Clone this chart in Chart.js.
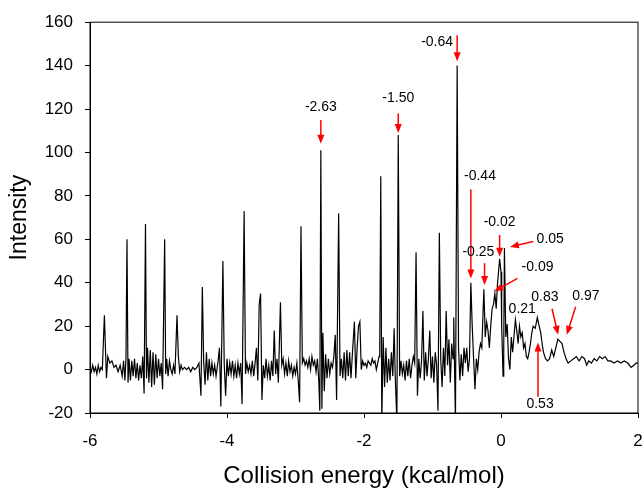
<!DOCTYPE html>
<html>
<head>
<meta charset="utf-8">
<script src="https://cdn.jsdelivr.net/npm/chart.js@4.4.0/dist/chart.umd.min.js"></script>
<style>
  body { margin: 0; background: #fff; }
</style>
</head>
<body>
<canvas id="spectrumChart" width="644" height="488"></canvas>
<script>
// collision energy (kcal/mol)
const energy = [
  -6.00, -5.98, -5.96, -5.94, -5.92, -5.90, -5.88, -5.86, -5.84, -5.82,
  -5.79, -5.76, -5.74, -5.71, -5.68, -5.65, -5.62, -5.59, -5.56, -5.53,
  -5.51, -5.49, -5.475, -5.46, -5.445, -5.43, -5.41, -5.39, -5.37, -5.35,
  -5.33, -5.31, -5.29, -5.27, -5.25, -5.23, -5.21, -5.19, -5.175, -5.16,
  -5.14, -5.12, -5.10, -5.08, -5.06, -5.04, -5.02, -5.00, -4.98, -4.96,
  -4.94, -4.91, -4.895, -4.88, -4.86, -4.84, -4.82, -4.80, -4.78, -4.76,
  -4.73, -4.71, -4.69, -4.67, -4.65, -4.62, -4.59, -4.56, -4.53, -4.50,
  -4.47, -4.44, -4.41, -4.38, -4.36, -4.34, -4.32, -4.30, -4.28, -4.26,
  -4.24, -4.22, -4.20, -4.18, -4.16, -4.13, -4.11, -4.09, -4.06, -4.04,
  -4.02, -4.00, -3.98, -3.96, -3.94, -3.92, -3.90, -3.88, -3.86, -3.84,
  -3.82, -3.80, -3.78, -3.75, -3.73, -3.71, -3.69, -3.67, -3.65, -3.63,
  -3.61, -3.59, -3.57, -3.55, -3.53, -3.51, -3.49, -3.47, -3.45, -3.43,
  -3.41, -3.39, -3.37, -3.35, -3.33, -3.31, -3.29, -3.27, -3.25, -3.22,
  -3.20, -3.18, -3.16, -3.14, -3.12, -3.10, -3.08, -3.06, -3.04, -3.02,
  -3.00, -2.98, -2.96, -2.94, -2.92, -2.90, -2.88, -2.86, -2.84, -2.82,
  -2.80, -2.78, -2.76, -2.74, -2.72, -2.70, -2.68, -2.66, -2.645, -2.63,
  -2.615, -2.60, -2.58, -2.56, -2.54, -2.52, -2.50, -2.48, -2.46, -2.44,
  -2.42, -2.40, -2.37, -2.35, -2.33, -2.31, -2.29, -2.27, -2.25, -2.23,
  -2.21, -2.19, -2.17, -2.14, -2.12, -2.10, -2.08, -2.06, -2.04, -2.02,
  -2.00, -1.98, -1.96, -1.94, -1.92, -1.90, -1.88, -1.86, -1.84, -1.82,
  -1.80, -1.78, -1.77, -1.755, -1.74, -1.72, -1.70, -1.68, -1.66, -1.64,
  -1.62, -1.60, -1.58, -1.56, -1.545, -1.52, -1.50, -1.48, -1.46, -1.44,
  -1.42, -1.40, -1.38, -1.36, -1.34, -1.32, -1.30, -1.28, -1.26, -1.24,
  -1.22, -1.20, -1.18, -1.16, -1.14, -1.12, -1.10, -1.08, -1.06, -1.04,
  -1.02, -1.00, -0.98, -0.96, -0.94, -0.92, -0.90, -0.88, -0.86, -0.84,
  -0.82, -0.80, -0.78, -0.76, -0.74, -0.72, -0.70, -0.69, -0.665, -0.64,
  -0.62, -0.60, -0.58, -0.56, -0.54, -0.52, -0.50, -0.48, -0.46, -0.44,
  -0.42, -0.40, -0.38, -0.36, -0.34, -0.32, -0.30, -0.28, -0.25, -0.23,
  -0.21, -0.19, -0.17, -0.15, -0.13, -0.11, -0.09, -0.07, -0.05, -0.02,
  0.00, 0.01, 0.03, 0.04, 0.05, 0.07, 0.09, 0.11, 0.13, 0.15,
  0.17, 0.21, 0.23, 0.25, 0.27, 0.29, 0.31, 0.33, 0.35, 0.37,
  0.39, 0.41, 0.43, 0.45, 0.47, 0.50, 0.53, 0.55, 0.58, 0.60,
  0.62, 0.65, 0.68, 0.71, 0.74, 0.77, 0.80, 0.83, 0.86, 0.89,
  0.92, 0.95, 0.98, 1.02, 1.06, 1.10, 1.14, 1.18, 1.22, 1.25,
  1.28, 1.32, 1.36, 1.40, 1.44, 1.48, 1.52, 1.56, 1.60, 1.65,
  1.70, 1.75, 1.80, 1.85, 1.90, 1.94, 1.97, 2.00
];

const intensity = [
  1, -1, 2, -1, 1, -2, 2, -1, 1, 0,
  25, -4, 6, 3, 4, 1, 2, -1, 2, -3,
  4, -5, 5, 60, -6, 5, -5, 4, -3, 5,
  -4, 3, -5, 2, -4, 6, -11, 67, -4, 10,
  -6, 9, -8, 8, -7, 7, -4, 5, -3, 3,
  -9, 60, -2, 5, -3, 4, 0, -2, 2, -2,
  25, 6, -1, 2, 0, 1, 0, 1, -1, 1,
  0, 1, 3, -12, 38, 3, -7, 8, -5, 5,
  -3, 3, -2, 2, -3, 4, 10, -17, 50, 2,
  -12, 5, -3, 3, -2, 4, -3, 2, -4, 3,
  -2, 3, -16, 73, -2, 3, -1, 2, -2, 4,
  -3, 3, 10, -5, 30, 35, -14, 2, -4, 5,
  -3, 2, -5, 4, -3, 18, -2, 5, -6, 31,
  2, 5, -2, 3, -3, 4, -1, 2, -3, 1,
  -2, 3, -5, -15, 66, 3, 5, 2, 4, 1,
  5, 0, 6, 2, 4, -1, 5, -5, -19, 101,
  -18, 17, -10, 7, -4, 5, -2, 3, 1, 6,
  16, -14, 72, -3, 5, -4, 8, -5, 9, -3,
  8, -4, 7, 22, -4, 10, 20, 22, 0, 4,
  2, 3, 1, 4, 3, 2, 5, 3, 4, 0,
  3, 6, 10, 89, -24, 15, -8, 10, -6, 5,
  -5, 8, -3, 19, -2, -24, 108, -3, 4, -2,
  2, -5, 4, -3, 5, -4, 2, 6, 3, 54,
  -12, 5, -4, 4, 27, -5, 8, -3, 5, 18,
  -4, 6, -6, 8, 2, -19, 63, 5, -8, 10,
  -3, 27, 2, 14, -6, 12, 5, 24, -24, 140,
  10, -5, 7, -3, 10, 3, 10, -1, 5, 40,
  20, 5, -9, 5, 0, 8, 12, 10, 37, 15,
  22, 18, 10, 20, 28, 30, 35, 28, 40, 51,
  45, 20, -3, 10, 56, 15, 21, 5, 0, 15,
  8, 23, 18, 12, 20, 15, 17, 10, 12, 6,
  5, 8, 12, 17, 20, 19, 24, 21, 17, 12,
  8, 5, 4, 5, 9, 6, 10, 14, 13, 12,
  8, 5, 3, 4, 5, 6, 4, 6, 5, 2,
  4, 3, 5, 4, 6, 5, 6, 4, 4, 3,
  4, 3, 4, 3, 1, 2, 3, 3
];

const xTicks = [-6, -4, -2, 0, 2];
const yTicks = [-20, 0, 20, 40, 60, 80, 100, 120, 140, 160];

// red labels: text, text anchor (x, y, align), arrow from -> to, all in data units
const callouts = [
  { text: '-2.63', x: -2.63, y: 121, align: 'center', arrow: [-2.63, 115, -2.63, 104] },
  { text: '-1.50', x: -1.50, y: 125, align: 'center', arrow: [-1.50, 118, -1.50, 109] },
  { text: '-0.64', x: -0.70, y: 151, align: 'right', arrow: [-0.64, 154, -0.64, 142] },
  { text: '-0.44', x: -0.54, y: 89, align: 'left', arrow: [-0.44, 83, -0.44, 42] },
  { text: '-0.25', x: -0.33, y: 54, align: 'center', arrow: [-0.24, 49, -0.24, 39] },
  { text: '-0.02', x: -0.02, y: 68, align: 'center', arrow: [-0.02, 62, -0.02, 52] },
  { text: '0.05', x: 0.52, y: 60, align: 'left', arrow: [0.47, 59, 0.13, 56.5] },
  { text: '-0.09', x: 0.30, y: 47, align: 'left', arrow: [0.24, 42, -0.10, 36] },
  { text: '0.21', x: 0.31, y: 28, align: 'center', arrow: null },
  { text: '0.83', x: 0.64, y: 33.5, align: 'center', arrow: [0.745, 28, 0.835, 16] },
  { text: '0.97', x: 1.24, y: 34, align: 'center', arrow: [1.09, 29, 0.96, 16] },
  { text: '0.53', x: 0.57, y: -16, align: 'center', arrow: [0.54, -12.5, 0.54, 12.5] }
];

const FONT = "'Liberation Sans', Arial, sans-serif";

const calloutPlugin = {
  id: 'callouts',
  afterDatasetsDraw(chart) {
    const ctx = chart.ctx;
    const xs = chart.scales.x;
    const ys = chart.scales.y;
    const area = chart.chartArea;

    // closed frame round the plot
    ctx.save();
    ctx.strokeStyle = '#000';
    ctx.lineWidth = 1;
    ctx.strokeRect(area.left, area.top, area.right - area.left, area.bottom - area.top);

    ctx.font = '14px ' + FONT;
    ctx.textBaseline = 'middle';
    callouts.forEach(c => {
      ctx.fillStyle = '#000';
      ctx.textAlign = c.align;
      ctx.fillText(c.text, xs.getPixelForValue(c.x), ys.getPixelForValue(c.y));
      if (!c.arrow) return;
      const x1 = xs.getPixelForValue(c.arrow[0]);
      const y1 = ys.getPixelForValue(c.arrow[1]);
      const x2 = xs.getPixelForValue(c.arrow[2]);
      const y2 = ys.getPixelForValue(c.arrow[3]);
      const ang = Math.atan2(y2 - y1, x2 - x1);
      const head = 9;
      ctx.strokeStyle = '#ff0000';
      ctx.fillStyle = '#ff0000';
      ctx.lineWidth = 1.5;
      ctx.beginPath();
      ctx.moveTo(x1, y1);
      ctx.lineTo(x2 - head * 0.8 * Math.cos(ang), y2 - head * 0.8 * Math.sin(ang));
      ctx.stroke();
      ctx.beginPath();
      ctx.moveTo(x2, y2);
      ctx.lineTo(x2 - head * Math.cos(ang) + 3.5 * Math.sin(ang), y2 - head * Math.sin(ang) - 3.5 * Math.cos(ang));
      ctx.lineTo(x2 - head * Math.cos(ang) - 3.5 * Math.sin(ang), y2 - head * Math.sin(ang) + 3.5 * Math.cos(ang));
      ctx.closePath();
      ctx.fill();
    });
    ctx.restore();
  }
};

const ctx = document.getElementById('spectrumChart').getContext('2d');
const spectrumChart = new Chart(ctx, {
  type: 'line',
  data: {
    datasets: [{
      label: 'Intensity',
      data: energy.map((e, i) => ({ x: e, y: intensity[i] })),
      borderColor: '#000',
      borderWidth: 1.2,
      pointRadius: 0,
      tension: 0,
      fill: false
    }]
  },
  options: {
    responsive: false,
    animation: false,
    layout: { padding: { top: 18, right: 6, left: 0, bottom: 0 } },
    plugins: {
      legend: { display: false },
      tooltip: { enabled: false }
    },
    scales: {
      x: {
        type: 'linear',
        min: -6,
        max: 2,
        afterBuildTicks: s => { s.ticks = xTicks.map(v => ({ value: v })); },
        afterFit: s => { s.height = 75; s.paddingLeft = 0; s.paddingRight = 0; },
        grid: { drawOnChartArea: false, color: '#000', tickLength: 5 },
        border: { color: '#000', width: 1 },
        ticks: { color: '#000', padding: 13, font: { family: FONT, size: 17 } },
        title: {
          display: true,
          text: 'Collision energy (kcal/mol)',
          color: '#000',
          font: { family: FONT, size: 24, lineHeight: 1.0 },
          padding: { top: 0, bottom: 0 }
        }
      },
      y: {
        min: -20,
        max: 160,
        afterBuildTicks: s => { s.ticks = yTicks.map(v => ({ value: v })); },
        afterFit: s => { s.width = 90; },
        grid: { drawOnChartArea: false, color: '#000', tickLength: 5 },
        border: { color: '#000', width: 1 },
        ticks: { color: '#000', padding: 12, font: { family: FONT, size: 17 } },
        title: {
          display: true,
          text: 'Intensity',
          color: '#000',
          font: { family: FONT, size: 23, lineHeight: 1.0 },
          padding: { top: 8, bottom: 0 }
        }
      }
    }
  },
  plugins: [calloutPlugin]
});
</script>
</body>
</html>
